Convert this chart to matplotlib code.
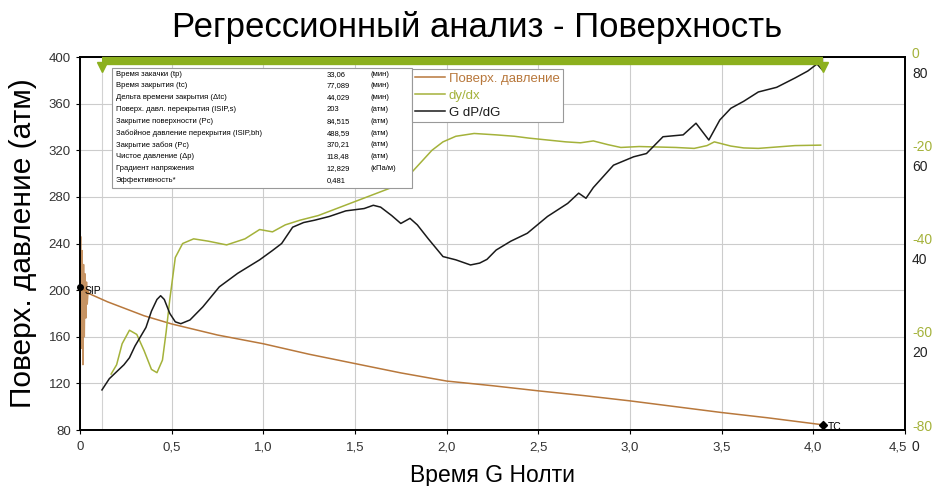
import numpy as np
import matplotlib
matplotlib.use("Agg")
import matplotlib.pyplot as plt
import matplotlib.transforms as mtransforms
from matplotlib.patches import Rectangle

plt.rcParams['font.family'] = ['Liberation Sans', 'DejaVu Sans']
plt.rcParams['axes.unicode_minus'] = False

# --- data ---
# pumping tail right before shut-in (noisy pressure at G ~ 0)
pump_g = [0.0, 0.004, 0.008, 0.012, 0.016, 0.02, 0.024, 0.028, 0.032, 0.036, 0.04, 0.045, 0.05]
pump_p = [203, 246, 150, 234, 136, 222, 160, 214, 176, 207, 188, 200, 197]

# surface pressure decline vs G-time
press_g = [0.0, 0.05, 0.15, 0.25, 0.35, 0.5, 0.75, 1.0, 1.25, 1.5, 1.75, 2.0,
           2.25, 2.5, 2.75, 3.0, 3.25, 3.5, 3.75, 4.05]
press_p = [203, 197, 190, 184, 178, 171, 161.5, 154, 145, 137, 129, 122,
           118, 113.6, 109.5, 105, 100, 95, 90.5, 84.5]

# dy/dx (semilog derivative)
deriv_g = [0.17, 0.2, 0.23, 0.27, 0.31, 0.35, 0.39, 0.42, 0.45, 0.47, 0.49, 0.52,
           0.56, 0.62, 0.7, 0.8, 0.9, 0.98, 1.05, 1.12, 1.2, 1.3, 1.4, 1.5, 1.6,
           1.7, 1.78, 1.85, 1.92, 1.98, 2.05, 2.15, 2.27, 2.37, 2.45, 2.55, 2.65,
           2.73, 2.8, 2.88, 2.95, 3.05, 3.15, 3.25, 3.35, 3.42, 3.46, 3.55, 3.62,
           3.7, 3.8, 3.9, 4.04]
deriv_v = [-68, -66, -61.5, -58.6, -59.5, -63, -67, -67.7, -65, -59, -52, -43,
           -40, -39, -39.5, -40.3, -39, -37, -37.5, -36, -35, -34, -32.5, -31, -29.5,
           -28, -26, -23, -20, -18.2, -17, -16.4, -16.7, -17, -17.4, -17.8, -18.2,
           -18.4, -18, -18.8, -19.4, -19.2, -19.3, -19.4, -19.6, -19, -18.2, -19.1, -19.5,
           -19.6, -19.3, -19, -18.9]

# G dP/dG
gdp_g = [0.12, 0.16, 0.2, 0.24, 0.27, 0.3, 0.33, 0.36, 0.39, 0.42, 0.44, 0.46,
         0.49, 0.52, 0.55, 0.6, 0.67, 0.76, 0.86, 0.98, 1.05, 1.1, 1.16, 1.22,
         1.28, 1.36, 1.45, 1.55, 1.6, 1.64, 1.7, 1.75, 1.8, 1.84, 1.9, 1.98,
         2.05, 2.13, 2.18, 2.22, 2.27, 2.35, 2.44, 2.55, 2.66, 2.72, 2.76, 2.8,
         2.91, 3.02, 3.09, 3.18, 3.29, 3.36, 3.43, 3.49, 3.55, 3.62, 3.7, 3.8,
         3.9, 3.97, 4.02, 4.05]
gdp_v = [8.6, 11, 12.5, 14, 15.5, 18, 20, 22, 25.5, 28, 28.8, 28,
         25, 23.2, 22.8, 23.6, 26.4, 30.7, 33.6, 36.5, 38.5, 40, 43.5, 44.5,
         45, 45.8, 47, 47.5, 48.2, 47.8, 46, 44.3, 45.4, 44, 41, 37.2,
         36.5, 35.4, 35.8, 36.6, 38.6, 40.5, 42.2, 45.8, 48.6, 50.8, 49.7, 52,
         56.8, 58.6, 59.3, 62.9, 63.3, 65.8, 62.2, 66.5, 69, 70.5, 72.5, 73.5,
         75.5, 77, 78.5, 77.2]

sip = (0.0, 203)
tc = (4.05, 84.5)
g_start, g_end = 0.12, 4.05

x_ticks = [0, 0.5, 1.0, 1.5, 2.0, 2.5, 3.0, 3.5, 4.0, 4.5]
x_labels = ['0', '0,5', '1,0', '1,5', '2,0', '2,5', '3,0', '3,5', '4,0', '4,5']
p_ticks = [80, 120, 160, 200, 240, 280, 320, 360, 400]
d_ticks = [-80, -60, -40, -20, 0]
b_ticks = [0, 20, 40, 60, 80]

table_names = ['Время закачки (tp)', 'Время закрытия (tc)', 'Дельта времени закрытия (Δtc)',
               'Поверх. давл. перекрытия (ISIP,s)', 'Закрытие поверхности (Pc)',
               'Забойное давление перекрытия (ISIP,bh)', 'Закрытие забоя (Pc)',
               'Чистое давление (Δp)', 'Градиент напряжения', 'Эффективность*']
table_values = ['33,06', '77,089', '44,029', '203', '84,515', '488,59', '370,21',
                '118,48', '12,829', '0,481']
table_units = ['(мин)', '(мин)', '(мин)', '(атм)', '(атм)', '(атм)', '(атм)',
               '(атм)', '(кПа/м)', '']

c_press = '#b8783c'
c_deriv = '#a4b23a'
c_gdp = '#1a1a1a'
c_bar = '#8cb01e'

fig = plt.figure(figsize=(9.44, 4.86), dpi=100)
ax = fig.add_axes([0.0847, 0.1152, 0.8740, 0.7675])
ax_d = ax.twinx()
ax_b = ax.twinx()

# left axis: surface pressure
ax.set_xlim(0, 4.5)
ax.set_ylim(80, 400)
ax.set_xticks(x_ticks)
ax.set_xticklabels(x_labels)
ax.set_yticks(p_ticks)
ax.grid(color='#cccccc', lw=0.8)
ax.set_axisbelow(True)
ax.axvline(g_start, color='#d2d2d2', lw=0.8, zorder=0)
ax.axvline(g_end, color='#d2d2d2', lw=0.8, zorder=0)
ax.tick_params(labelsize=9.5, labelcolor='#333333', length=3, width=0.8)
ax.tick_params(axis='x', pad=5)
# last x label nudged left so it sits next to the right-axis "0"
last = ax.get_xticklabels()[-1]
last.set_transform(last.get_transform() +
                   mtransforms.ScaledTranslation(-0.07, 0, fig.dpi_scale_trans))

ax.plot(pump_g, pump_p, color=c_press, lw=1.0, alpha=0.8, clip_on=False)
l1, = ax.plot(press_g, press_p, color=c_press, lw=1.1, label='Поверх. давление')
ax.plot(*sip, 'o', color='black', ms=4, clip_on=False, zorder=5)
ax.annotate('SIP', sip, xytext=(3, -5), textcoords='offset points', fontsize=7.5)
ax.plot(*tc, 'D', color='black', ms=4, clip_on=False, zorder=5)
ax.annotate('TC', tc, xytext=(4, -4), textcoords='offset points', fontsize=7.5)

# right axes: dy/dx and G dP/dG
ax_d.set_ylim(-80, 0)
ax_d.set_yticks(d_ticks)
ax_d.tick_params(labelsize=10, labelcolor=c_deriv, length=0, pad=5)
l2, = ax_d.plot(deriv_g, deriv_v, color=c_deriv, lw=1.1, label='dy/dx')

ax_b.set_ylim(0, 80)
ax_b.set_yticks(b_ticks)
ax_b.tick_params(labelsize=10, labelcolor='#222222', length=0, pad=5)
l3, = ax_b.plot(gdp_g, gdp_v, color=c_gdp, lw=1.1, label='G dP/dG')

# stack the two right-hand label sets
up = mtransforms.ScaledTranslation(0, 0.05, fig.dpi_scale_trans)
down = mtransforms.ScaledTranslation(0, -0.15, fig.dpi_scale_trans)
for lab in ax_d.get_yticklabels():
    lab.set_transform(lab.get_transform() + up)
for lab in ax_b.get_yticklabels():
    lab.set_transform(lab.get_transform() + down)

for a in (ax, ax_d, ax_b):
    for s in a.spines.values():
        s.set_color('black')
        s.set_linewidth(1.1)

# closure window bar on top
bt = mtransforms.blended_transform_factory(ax.transData, ax.transAxes)
ax_b.plot([g_start, g_end], [0.988, 0.988], transform=bt, color=c_bar, lw=6,
          solid_capstyle='butt', clip_on=False, zorder=6)
ax_b.plot([g_start, g_end], [0.972, 0.972], 'v', transform=bt, color=c_bar,
          ms=7, clip_on=False, zorder=6)

# results table
ax_b.add_patch(Rectangle((0.039, 0.649), 0.364, 0.322, transform=ax_b.transAxes,
                         facecolor='white', edgecolor='#999999', lw=0.8, zorder=7))
for i, (n, v, u) in enumerate(zip(table_names, table_values, table_units)):
    y = 0.954 - i * 0.0316
    ax_b.text(0.0436, y, n, transform=ax_b.transAxes, fontsize=5.5, va='center', zorder=8)
    ax_b.text(0.299, y, v, transform=ax_b.transAxes, fontsize=5.5, va='center', zorder=8)
    ax_b.text(0.352, y, u, transform=ax_b.transAxes, fontsize=5.5, va='center', zorder=8)

leg = ax_b.legend(handles=[l1, l2, l3], loc='upper left', bbox_to_anchor=(0.402, 0.967),
                  fontsize=9.5, frameon=True, fancybox=False, edgecolor='#999999',
                  framealpha=1, handlelength=2.3, handletextpad=0.25, borderpad=0.25,
                  labelspacing=0.35, borderaxespad=0, labelcolor='linecolor')
leg.get_frame().set_linewidth(0.8)
leg.set_zorder(9)

fig.text(0.505, 0.944, 'Регрессионный анализ - Поверхность', ha='center', va='center',
         fontsize=25)
ax.set_xlabel('Время G Нолти', fontsize=16.5, labelpad=8)
fig.text(0.024, 0.5, 'Поверх. давление (атм)', rotation=90, ha='center', va='center',
         fontsize=21.5)

fig.savefig('out.png', dpi=100)
